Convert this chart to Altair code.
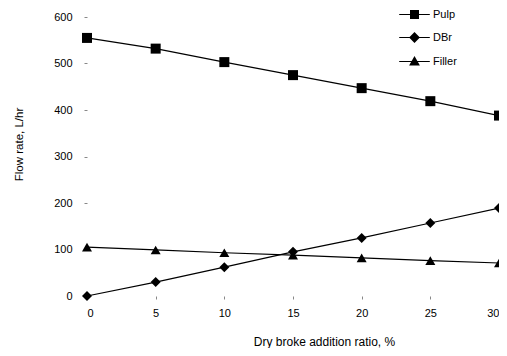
import altair as alt
import pandas as pd

ratio = [0, 5, 10, 15, 20, 25, 30]
pulp = [555, 532, 503, 475, 447, 419, 388]
dbr = [0, 30, 62, 95, 125, 157, 189]
filler = [105, 99, 93, 88, 82, 76, 71]
series_names = ["Pulp", "DBr", "Filler"]

rows = []
for name, vals in zip(series_names, [pulp, dbr, filler]):
    for x, v in zip(ratio, vals):
        rows.append({"ratio": x, "flow": v, "series": name})
df = pd.DataFrame(rows)

font = "Liberation Sans"

x_enc = alt.X("ratio:Q", scale=alt.Scale(domain=[0, 30], nice=False),
              axis=alt.Axis(values=ratio, title="Dry broke addition ratio, %", grid=False,
                            domain=False, tickSize=3, tickColor="#888", labelPadding=8,
                            titlePadding=18, titleX=237, titleAlign="center",
                            labelFontSize=11, titleFontSize=12,
                            titleFontWeight="normal", labelColor="black", titleColor="black"))
y_enc = alt.Y("flow:Q", scale=alt.Scale(domain=[0, 600], nice=False),
              axis=alt.Axis(values=[0, 100, 200, 300, 400, 500, 600], title="Flow rate, L/hr",
                            grid=False, domain=False, tickSize=3, tickColor="#888",
                            labelPadding=12, titlePadding=29, titleY=127, titleAlign="center",
                            labelFontSize=11, titleFontSize=11.5,
                            titleFontWeight="normal", labelColor="black", titleColor="black"))

lines = alt.Chart(df).mark_line(color="black", strokeWidth=1.2).encode(
    x=x_enc, y=y_enc, detail="series:N")

points = alt.Chart(df).mark_point(filled=True, color="black", opacity=1, size=100).encode(
    x="ratio:Q", y="flow:Q",
    shape=alt.Shape("series:N", scale=alt.Scale(domain=series_names,
                                                  range=["square", "diamond", "triangle-up"]),
                    legend=None))

r = 3.4
h = 0.12
bar = f"M-{r},-{h}L{r},-{h}L{r},{h}L-{r},{h}Z"
sq = bar + "M-1,-1L1,-1L1,1L-1,1Z"
dm = bar + "M-1.2,0L0,-1.2L1.2,0L0,1.2Z"
tr = bar + "M0,-1.2L1.2,0.9L-1.2,0.9Z"

legend_layer = alt.Chart(df).mark_point(filled=True, color="black", opacity=0).encode(
    x="ratio:Q", y="flow:Q",
    shape=alt.Shape("series:N", scale=alt.Scale(domain=series_names, range=[sq, dm, tr]),
                    legend=alt.Legend(title=None, orient="none", legendX=322, legendY=-8,
                                      symbolSize=81, symbolOpacity=1, symbolFillColor="black",
                                      labelOffset=13, rowPadding=7, labelFontSize=11,
                                      labelFont=font, labelColor="black")))

chart = alt.layer(lines, points, legend_layer).resolve_scale(shape="independent").properties(
    width=412, height=279,
    autosize=alt.AutoSizeParams(type="none"),
    padding={"left": 79, "top": 9, "right": 0, "bottom": 52},
).configure_view(stroke=None).configure_axis(labelFont=font, titleFont=font)

chart.save("out.html", embed_options={"renderer": "svg", "actions": False})
